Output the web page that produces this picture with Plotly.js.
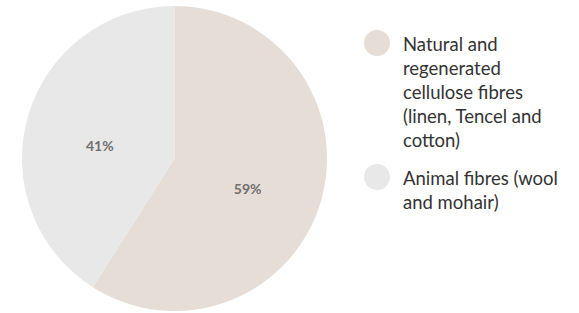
<!DOCTYPE html>
<html>
<head>
<meta charset="utf-8">
<script src="https://cdn.plot.ly/plotly-3.0.1.min.js"></script>
<style>html,body{margin:0;padding:0;background:#fff}#chart{width:579px;height:313px}</style>
</head>
<body>
<div id="chart"></div>
<script>
const labels = ["Natural and regenerated cellulose fibres (linen, Tencel and cotton)", "Animal fibres (wool and mohair)"];
const legendLines = [["Natural and", "regenerated", "cellulose fibres", "(linen, Tencel and", "cotton)"], ["Animal fibres (wool", "and mohair)"]];
const values = [59, 41];
const colors = ["#E6DDD6", "#E8E8E8"];

const W = 579, H = 313;
const legendTop = [32, 166];   // px, top of each legend entry
const markerCx = 377, markerR = 13, textX = 402;

const shapes = [], annotations = [];
legendLines.forEach((lines, i) => {
  const cy = legendTop[i] + 11;
  shapes.push({type: "circle", xref: "paper", yref: "paper",
    x0: (markerCx - markerR) / W, x1: (markerCx + markerR) / W,
    y0: 1 - (cy + markerR) / H, y1: 1 - (cy - markerR) / H,
    fillcolor: colors[i], line: {width: 0}});
  annotations.push({xref: "paper", yref: "paper", x: textX / W, y: 1 - legendTop[i] / H,
    xanchor: "left", yanchor: "top", align: "left", showarrow: false, borderpad: 0,
    text: lines.join("<br>"), font: {family: "Lato, sans-serif", size: 18.5, color: "#333333"}});
});

Plotly.newPlot("chart", [{
  type: "pie", labels: labels, values: values, sort: false, direction: "clockwise", rotation: 0,
  marker: {colors: colors, line: {width: 0}},
  textinfo: "percent", texttemplate: "\u00a0<br>%{value}%", textposition: "inside",
  insidetextfont: {family: "Lato, sans-serif", size: 14, color: "#6f6f6f", weight: "bold"},
  hoverinfo: "label+percent",
  domain: {x: [22 / W, 327 / W], y: [2 / H, 307 / H]}
}], {
  width: W, height: H, margin: {l: 0, r: 0, t: 0, b: 0},
  paper_bgcolor: "#ffffff", showlegend: false,
  shapes: shapes, annotations: annotations
}, {displayModeBar: false, staticPlot: true});
</script>
</body>
</html>
